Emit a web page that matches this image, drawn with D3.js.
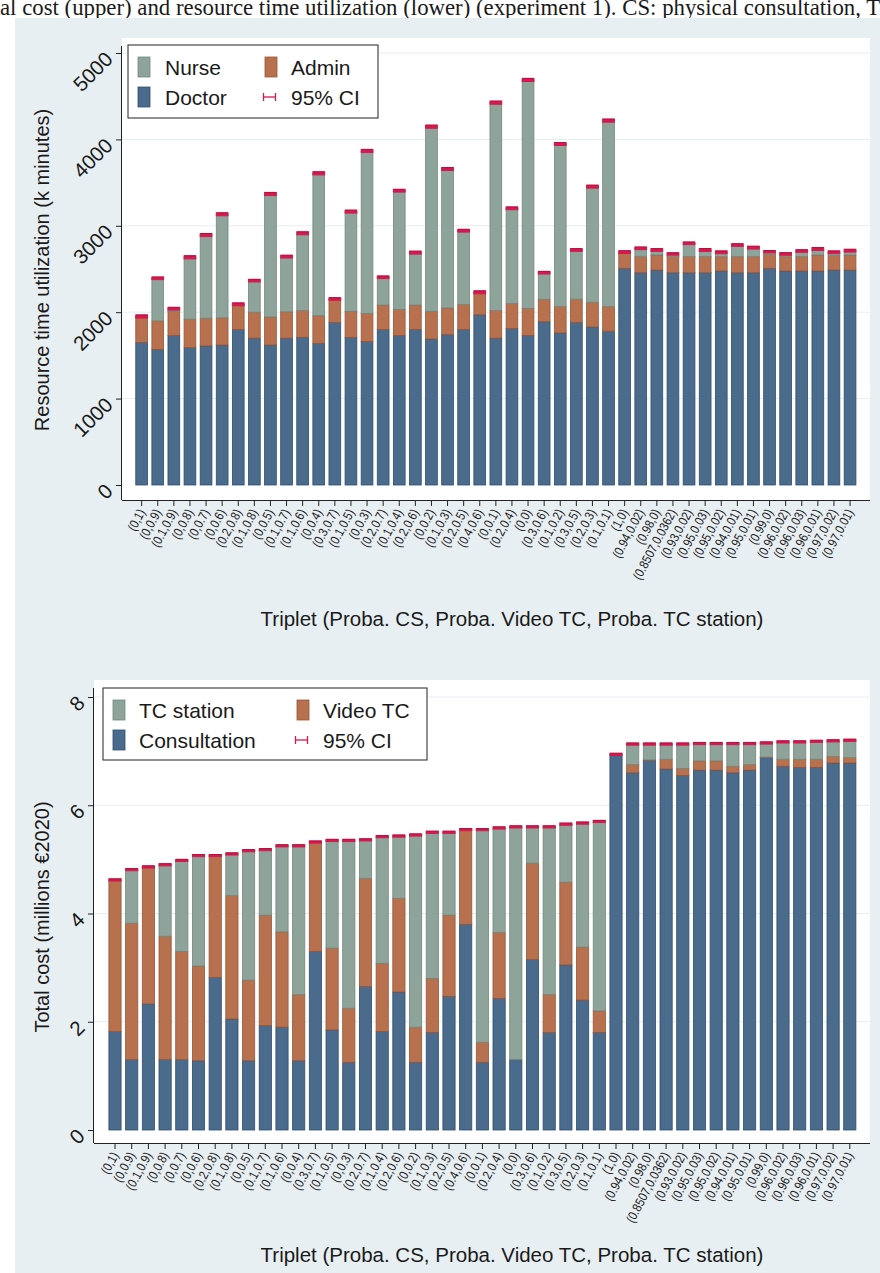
<!DOCTYPE html>
<html>
<head>
<meta charset="utf-8">
<script src="https://cdn.jsdelivr.net/npm/d3@7"></script>
<style>
  html, body { margin: 0; padding: 0; background: #ffffff; }
  svg { display: block; }
  text { font-family: "Liberation Sans", Arial, sans-serif; fill: #1a1a1a; }
  .caption { font-family: "Liberation Serif", "Times New Roman", serif; }
</style>
</head>
<body>
<script>
// Scenario triplets (Proba. CS, Proba. Video TC) - the TC station share is the remainder
const categories = [
  "(0,1)", "(0,0.9)", "(0.1,0.9)", "(0,0.8)", "(0,0.7)", "(0,0.6)", "(0.2,0.8)", "(0.1,0.8)",
  "(0,0.5)", "(0.1,0.7)", "(0.1,0.6)", "(0,0.4)", "(0.3,0.7)", "(0.1,0.5)", "(0,0.3)", "(0.2,0.7)",
  "(0.1,0.4)", "(0.2,0.6)", "(0,0.2)", "(0.1,0.3)", "(0.2,0.5)", "(0.4,0.6)", "(0,0.1)", "(0.2,0.4)",
  "(0,0)", "(0.3,0.6)", "(0.1,0.2)", "(0.3,0.5)", "(0.2,0.3)", "(0.1,0.1)",
  "(1,0)", "(0.94,0.02)", "(0.98,0)", "(0.8507,0.0362)", "(0.93,0.02)", "(0.95,0.03)", "(0.95,0.02)",
  "(0.94,0.01)", "(0.95,0.01)", "(0.99,0)", "(0.96,0.02)", "(0.96,0.03)", "(0.96,0.01)", "(0.97,0.02)", "(0.97,0.01)"
];

// Resource time utilization (k minutes)
const doctor = [
  1650, 1570, 1730, 1590, 1610, 1620, 1800, 1700, 1620, 1700, 1710, 1640, 1880, 1710, 1660,
  1800, 1730, 1800, 1690, 1740, 1800, 1970, 1700, 1810, 1730, 1890, 1760, 1880, 1830, 1780,
  2508, 2457, 2488, 2457, 2457, 2457, 2477, 2457, 2457, 2508, 2477, 2477, 2477, 2488, 2488
];
const admin = [
  300, 330, 280, 330, 320, 315, 280, 300, 325, 305, 310, 320, 270, 300, 325,
  283, 303, 283, 320, 310, 290, 255, 320, 290, 315, 260, 305, 270, 285, 285,
  174, 186, 174, 186, 186, 186, 166, 186, 186, 162, 166, 166, 185, 167, 174
];
const nurse = [
  0, 492, 30, 715, 963, 1198, 11, 365, 1423, 638, 893, 1647, 3, 1154, 1881,
  321, 1373, 606, 2137, 1607, 853, 5, 2405, 1102, 2643, 307, 1882, 570, 1338, 2152,
  13, 96, 58, 31, 154, 77, 50, 134, 104, 30, 31, 65, 69, 38, 50
];
const timeCIHalf = [
  18, 15, 16, 18, 18, 17, 16, 15, 18, 16, 17, 18, 15, 17, 18,
  15, 16, 17, 18, 17, 16, 17, 18, 16, 18, 15, 17, 16, 17, 18,
  16, 15, 16, 14, 15, 17, 16, 15, 16, 14, 15, 15, 17, 16, 16
];

// Total cost (millions EUR 2020)
const consultation = [
  1.82, 1.30, 2.33, 1.30, 1.30, 1.28, 2.82, 2.05, 1.28, 1.93, 1.90, 1.28, 3.30, 1.85, 1.25,
  2.65, 1.82, 2.55, 1.25, 1.80, 2.47, 3.80, 1.25, 2.43, 1.30, 3.15, 1.80, 3.05, 2.40, 1.80,
  6.92, 6.60, 6.83, 6.67, 6.55, 6.65, 6.65, 6.60, 6.65, 6.88, 6.72, 6.70, 6.70, 6.78, 6.78
];
const videoTC = [
  2.80, 2.52, 2.52, 2.28, 2.00, 1.75, 2.25, 2.28, 1.49, 2.04, 1.76, 1.22, 2.02, 1.51, 1.00,
  2.00, 1.26, 1.73, 0.65, 1.00, 1.50, 1.75, 0.37, 1.22, 0.00, 1.78, 0.70, 1.53, 0.98, 0.40,
  0.00, 0.15, 0.01, 0.18, 0.13, 0.17, 0.17, 0.12, 0.10, 0.01, 0.13, 0.15, 0.15, 0.12, 0.10
];
const tcStation = [
  0.00, 0.99, 0.01, 1.32, 1.68, 2.04, 0.00, 0.77, 2.39, 1.21, 1.59, 2.75, 0.00, 1.99, 3.10,
  0.71, 2.34, 1.15, 3.55, 2.70, 1.53, 0.00, 3.93, 1.93, 4.30, 0.67, 3.10, 1.07, 2.29, 3.50,
  0.02, 0.38, 0.29, 0.28, 0.45, 0.32, 0.32, 0.42, 0.39, 0.26, 0.32, 0.32, 0.33, 0.29, 0.32
];
const costCIHalf = [
  0.02, 0.02, 0.02, 0.02, 0.02, 0.02, 0.02, 0.02, 0.02, 0.02, 0.02, 0.02, 0.02, 0.02, 0.02,
  0.02, 0.02, 0.02, 0.02, 0.02, 0.02, 0.02, 0.02, 0.02, 0.02, 0.02, 0.02, 0.02, 0.02, 0.02,
  0.02, 0.02, 0.02, 0.02, 0.02, 0.02, 0.02, 0.02, 0.02, 0.02, 0.02, 0.02, 0.02, 0.02, 0.02
];

const timeTicks = [0, 1000, 2000, 3000, 4000, 5000];
const costTicks = [0, 2, 4, 6, 8];

const C = {
  blue: "#4a6b8c", blueLine: "#2d4e70",
  orange: "#b7714f", orangeLine: "#9a5535",
  green: "#8ea399", greenLine: "#72897e",
  ci: "#d6194f", ciDark: "#a8103a",
  bg: "#e8eff2", grid: "#e6eef1"
};

const W = 880, H = 1273;
const svg = d3.select("body").append("svg").attr("width", W).attr("height", H);

// caption line (runs past both page edges)
const capSize = 22.8;
const cap = svg.append("text").attr("class", "caption")
  .attr("y", 15).attr("font-size", capSize)
  .text("Total cost (upper) and resource time utilization (lower) (experiment 1). CS: physical consultation, TC: teleconsultation.");
const probe = svg.append("text").attr("class", "caption").attr("font-size", capSize).text("Tot");
const cut = probe.node().getComputedTextLength();
probe.remove();
cap.attr("x", -cut);

// graph region background
svg.append("rect").attr("x", 15).attr("y", 18).attr("width", W - 15).attr("height", H - 18).attr("fill", C.bg);

function panel(cfg) {
  const g = svg.append("g");
  const x = d3.scaleBand().domain(categories).range(cfg.xRange).padding(0);
  const y = d3.scaleLinear().domain(cfg.yDomain).range(cfg.yRange);
  const bw = x.bandwidth() * 0.73;

  // plot region
  g.append("rect").attr("x", cfg.left).attr("y", cfg.top)
    .attr("width", cfg.right - cfg.left).attr("height", cfg.bottom - cfg.top).attr("fill", "#fff");

  // gridlines
  g.selectAll(".grid").data(cfg.ticks.filter(t => t > 0)).join("line")
    .attr("x1", cfg.left).attr("x2", cfg.right)
    .attr("y1", d => y(d)).attr("y2", d => y(d))
    .attr("stroke", C.grid).attr("stroke-width", 1);

  // stacked bars
  const rows = categories.map((c, i) => {
    const r = { cat: c, ci: cfg.ci[i] };
    cfg.series.forEach(s => { r[s.key] = s.values[i]; });
    return r;
  });
  const stack = d3.stack().keys(cfg.series.map(s => s.key))(rows);
  stack.forEach((layer, li) => {
    const s = cfg.series[li];
    g.append("g").selectAll("rect").data(layer).join("rect")
      .attr("x", d => x(d.data.cat) + (x.bandwidth() - bw) / 2)
      .attr("width", bw)
      .attr("y", d => y(d[1]))
      .attr("height", d => Math.max(0, y(d[0]) - y(d[1])))
      .attr("fill", s.fill).attr("stroke", s.line).attr("stroke-width", 0.8);
  });

  // 95% CI of the total: capped range, drawn as a small crimson band
  const top = stack[stack.length - 1];
  const ci = g.append("g");
  top.forEach(d => {
    const cx = x(d.data.cat) + x.bandwidth() / 2;
    const lo = y(d[1] - d.data.ci), hi = y(d[1] + d.data.ci);
    ci.append("rect").attr("x", cx - bw / 2).attr("width", bw)
      .attr("y", hi).attr("height", Math.max(1, lo - hi))
      .attr("fill", C.ci).attr("stroke", C.ci).attr("stroke-width", 1);
    ci.append("line").attr("x1", cx - bw / 2).attr("x2", cx + bw / 2).attr("y1", hi).attr("y2", hi)
      .attr("stroke", C.ciDark).attr("stroke-width", 0.8);
  });

  // y axis
  const ya = d3.axisLeft(y).tickValues(cfg.ticks).tickSize(6).tickFormat(d3.format("d"));
  const yg = g.append("g").attr("transform", `translate(${cfg.left},0)`).call(ya);
  yg.select(".domain").attr("d", `M-0.5,${cfg.bottom}V${cfg.top + 8}`).attr("stroke", "#222");
  yg.selectAll(".tick line").attr("stroke", "#222");
  yg.selectAll(".tick text")
    .attr("font-size", 20.5).attr("x", 0).attr("dy", 0)
    .attr("text-anchor", "end")
    .attr("transform", "translate(-8,7) rotate(-45)");

  // x axis
  const xa = d3.axisBottom(x).tickSize(6);
  const xg = g.append("g").attr("transform", `translate(0,${cfg.bottom})`).call(xa);
  xg.select(".domain").attr("d", `M${cfg.left},0.5H${cfg.right}`).attr("stroke", "#222");
  xg.selectAll(".tick line").attr("stroke", "#222");
  xg.selectAll(".tick text")
    .attr("font-size", 13).attr("y", 0).attr("dy", 0)
    .attr("text-anchor", "end")
    .attr("transform", "translate(4,12) rotate(-62) scale(0.85,1)");

  // titles
  g.append("text").attr("font-size", 20).attr("text-anchor", "middle")
    .attr("transform", `translate(${cfg.yTitleX},${cfg.yTitleY}) rotate(-90)`)
    .text(cfg.yTitle);
  g.append("text").attr("font-size", 20.5).attr("text-anchor", "middle")
    .attr("x", cfg.xTitleX).attr("y", cfg.xTitleY).text(cfg.xTitle);

  // legend
  const L = cfg.legend;
  const lg = g.append("g").attr("transform", `translate(${L.x},${L.y})`);
  lg.append("rect").attr("width", L.w).attr("height", L.h).attr("fill", "#fff").attr("stroke", "#222").attr("stroke-width", 1);
  L.items.forEach(it => {
    const ig = lg.append("g").attr("transform", `translate(${it.x},${it.y})`);
    if (it.ci) {
      ig.append("line").attr("x1", 0).attr("x2", 13).attr("y1", 0).attr("y2", 0).attr("stroke", C.ci).attr("stroke-width", 1.3);
      ig.append("line").attr("x1", 0.5).attr("x2", 0.5).attr("y1", -4).attr("y2", 4).attr("stroke", C.ci).attr("stroke-width", 1.3);
      ig.append("line").attr("x1", 12.5).attr("x2", 12.5).attr("y1", -4).attr("y2", 4).attr("stroke", C.ci).attr("stroke-width", 1.3);
    } else {
      ig.append("rect").attr("x", 0).attr("y", -10).attr("width", 12).attr("height", 20)
        .attr("fill", it.fill).attr("stroke", it.line).attr("stroke-width", 0.8);
    }
    ig.append("text").attr("x", it.tx).attr("y", 7.5).attr("font-size", 21).text(it.label);
  });
}

panel({
  left: 122, right: 870, top: 38, bottom: 500,
  xRange: [133.6, 858.1], yDomain: [0, 5000], yRange: [485, 53], ticks: timeTicks,
  series: [
    { key: "Doctor", values: doctor, fill: C.blue, line: C.blueLine },
    { key: "Admin", values: admin, fill: C.orange, line: C.orangeLine },
    { key: "Nurse", values: nurse, fill: C.green, line: C.greenLine }
  ],
  ci: timeCIHalf,
  yTitle: "Resource time utilization (k minutes)", yTitleX: 49, yTitleY: 270,
  xTitle: "Triplet (Proba. CS, Proba. Video TC, Proba. TC station)", xTitleX: 512, xTitleY: 626,
  legend: { x: 128, y: 45, w: 250, h: 73, items: [
    { label: "Nurse", x: 10, y: 22, tx: 27, fill: C.green, line: C.greenLine },
    { label: "Admin", x: 137, y: 22, tx: 26, fill: C.orange, line: C.orangeLine },
    { label: "Doctor", x: 10, y: 52, tx: 27, fill: C.blue, line: C.blueLine },
    { label: "95% CI", x: 135, y: 52, tx: 28, ci: true }
  ] }
});

panel({
  left: 94, right: 870, top: 680, bottom: 1143,
  xRange: [106.65, 858.15], yDomain: [0, 8], yRange: [1130, 697], ticks: costTicks,
  series: [
    { key: "Consultation", values: consultation, fill: C.blue, line: C.blueLine },
    { key: "Video TC", values: videoTC, fill: C.orange, line: C.orangeLine },
    { key: "TC station", values: tcStation, fill: C.green, line: C.greenLine }
  ],
  ci: costCIHalf,
  yTitle: "Total cost (millions €2020)", yTitleX: 49, yTitleY: 917,
  xTitle: "Triplet (Proba. CS, Proba. Video TC, Proba. TC station)", xTitleX: 512, xTitleY: 1262,
  legend: { x: 103, y: 688, w: 324, h: 72, items: [
    { label: "TC station", x: 10, y: 22, tx: 26, fill: C.green, line: C.greenLine },
    { label: "Video TC", x: 194, y: 22, tx: 26, fill: C.orange, line: C.orangeLine },
    { label: "Consultation", x: 10, y: 52, tx: 26, fill: C.blue, line: C.blueLine },
    { label: "95% CI", x: 192, y: 52, tx: 28, ci: true }
  ] }
});
</script>
</body>
</html>
